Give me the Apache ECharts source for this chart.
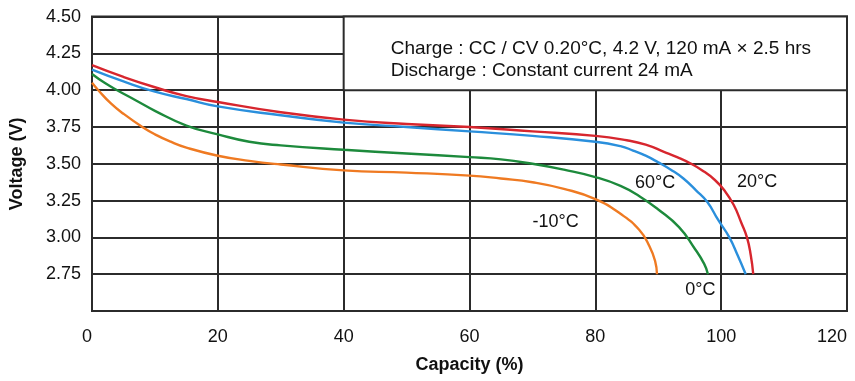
<!DOCTYPE html>
<html>
<head>
<meta charset="utf-8">
<style>
  html, body { margin: 0; padding: 0; background: #fff; }
  #chart { width: 855px; height: 381px; }
</style>
<script src="https://cdn.jsdelivr.net/npm/echarts@6/dist/echarts.min.js"></script>
</head>
<body>
<div id="chart"></div>
<script>
// [capacity %, voltage V]
var curve20 = [[0, 4.17], [5, 4.09], [10, 4.02], [15, 3.96], [20, 3.92], [30, 3.85], [40, 3.80], [50, 3.77], [60, 3.75], [70, 3.72], [80, 3.69], [85, 3.66], [88, 3.63], [91, 3.58], [93, 3.545], [95, 3.505], [97, 3.455], [99, 3.39], [100.5, 3.32], [102, 3.22], [103.2, 3.10], [104.1, 3.00], [104.7, 2.88], [105.1, 2.75]]
var curve60 = [[0, 4.14], [5, 4.06], [10, 3.99], [15, 3.94], [20, 3.89], [30, 3.83], [40, 3.78], [50, 3.75], [60, 3.72], [70, 3.69], [80, 3.65], [84, 3.62], [86, 3.59], [88, 3.555], [90, 3.51], [92, 3.46], [94, 3.40], [96, 3.32], [97.8, 3.24], [99.5, 3.12], [101.3, 3.00], [102.6, 2.88], [103.9, 2.75]]
var curve0 = [[0, 4.11], [2, 4.05], [4, 4.00], [7, 3.93], [10, 3.86], [15, 3.76], [20, 3.70], [25, 3.65], [30, 3.625], [40, 3.595], [50, 3.57], [60, 3.545], [65, 3.53], [70, 3.50], [75, 3.46], [80, 3.41], [84, 3.35], [87, 3.28], [90, 3.19], [93.3, 3.07], [95.7, 2.93], [97.3, 2.82], [97.9, 2.75]]
var curveM10 = [[0, 4.05], [1, 4.00], [3, 3.91], [5, 3.84], [8, 3.75], [10, 3.70], [12.5, 3.65], [15, 3.61], [20, 3.555], [25, 3.52], [30, 3.495], [40, 3.455], [50, 3.44], [60, 3.42], [65, 3.40], [70, 3.375], [75, 3.33], [80, 3.26], [84, 3.16], [87, 3.05], [88.6, 2.94], [89.5, 2.84], [89.8, 2.75]]

var seriesNames = ['20°C', '60°C', '0°C', '-10°C']
// where each curve's name is written
var nameSpots = [[105.7, 3.375], [89.5, 3.37], [96.7, 2.64], [73.7, 3.105]]
var noteLines = ['Charge : CC / CV 0.20°C, 4.2 V, 120 mA × 2.5 hrs', 'Discharge : Constant current 24 mA']
var noteBox = [[40, 4.5], [120, 4.0]]

var font = '"Liberation Sans", Arial, sans-serif'
var gridColor = '#2b2b2b'

function curveSeries(idx, data, color) {
  return {
    name: seriesNames[idx],
    type: 'line',
    data: data,
    smooth: 0.5,
    showSymbol: false,
    lineStyle: { color: color, width: 2.4 },
    itemStyle: { color: color },
    markPoint: {
      symbol: 'circle',
      symbolSize: 1,
      itemStyle: { color: 'rgba(0,0,0,0)' },
      label: {
        show: true,
        position: 'inside',
        formatter: seriesNames[idx],
        color: '#111',
        fontFamily: font,
        fontSize: 18
      },
      data: [{ coord: nameSpots[idx] }]
    }
  }
}

var chart = echarts.init(document.getElementById('chart'))

var series = [
  curveSeries(3, curveM10, '#ef7a22'),
  curveSeries(2, curve0, '#1d8a3c'),
  curveSeries(1, curve60, '#2a8fdc'),
  curveSeries(0, curve20, '#d7262e')
]
// white note box over the grid
series[0].markArea = {
  silent: true,
  itemStyle: { color: '#fff', borderColor: gridColor, borderWidth: 2 },
  label: {
    show: true,
    position: [48, 22],
    align: 'left',
    formatter: noteLines.join('\n'),
    color: '#111',
    fontFamily: font,
    fontSize: 19,
    lineHeight: 22
  },
  data: [[{ coord: noteBox[0] }, { coord: noteBox[1] }]]
}

chart.setOption({
  animation: false,
  backgroundColor: '#fff',
  grid: {
    left: 91,
    right: 8,
    top: 16.6,
    bottom: 70,
    show: true,
    borderColor: gridColor,
    borderWidth: 2
  },
  xAxis: {
    type: 'value',
    min: 0,
    max: 120,
    interval: 20,
    name: 'Capacity (%)',
    nameLocation: 'middle',
    nameGap: 45,
    nameTextStyle: { fontFamily: font, fontSize: 18, fontWeight: 'bold', color: '#111' },
    axisLine: { show: false },
    axisTick: { show: false },
    axisLabel: {
      margin: 17,
      fontFamily: font,
      fontSize: 18,
      color: '#111',
      alignMinLabel: 'right',
      alignMaxLabel: 'right'
    },
    splitLine: { show: true, lineStyle: { color: gridColor, width: 2 } }
  },
  yAxis: {
    type: 'value',
    min: 2.5,
    max: 4.5,
    interval: 0.25,
    name: 'Voltage (V)',
    nameLocation: 'middle',
    nameGap: 66,
    nameTextStyle: { fontFamily: font, fontSize: 18, fontWeight: 'bold', color: '#111' },
    axisLine: { show: false },
    axisTick: { show: false },
    axisLabel: {
      margin: 11,
      fontFamily: font,
      fontSize: 18,
      color: '#111',
      formatter: function(v) {
        return v === 2.5 ? '' : v.toFixed(2)
      }
    },
    splitLine: { show: true, lineStyle: { color: gridColor, width: 2 } }
  },
  series: series
})
</script>
</body>
</html>
